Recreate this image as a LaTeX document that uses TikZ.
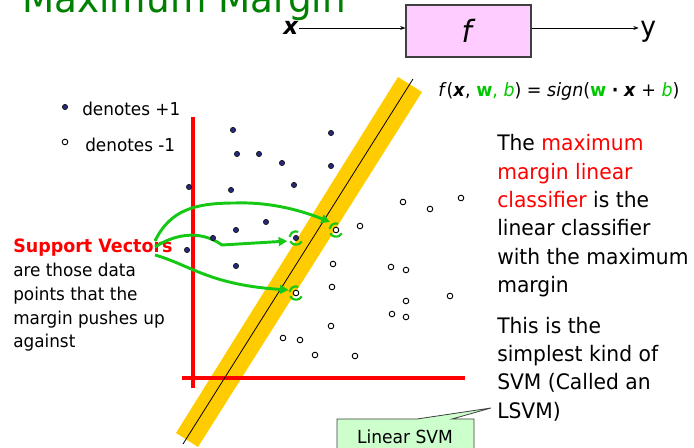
\documentclass[tikz,border=0pt]{standalone}
\usepackage{fontspec}
\setmainfont[FakeStretch=0.95]{DejaVu Sans}
\usetikzlibrary{arrows.meta}
\definecolor{titlegreen}{RGB}{0,128,0}
\definecolor{fgreen}{RGB}{0,200,0}
\definecolor{agreen}{RGB}{20,200,20}
\definecolor{bandyellow}{RGB}{255,204,0}
\definecolor{boxpink}{RGB}{255,204,255}
\definecolor{calloutgreen}{RGB}{204,255,204}
\definecolor{dotblue}{RGB}{40,40,120}
\definecolor{boxgray}{RGB}{64,64,64}
\tikzset{
  txt/.style={inner sep=0pt, anchor=base west},
  bodytxt/.style={txt, font=\fontsize{16}{19}\selectfont},
  smalltxt/.style={txt, font=\fontsize{13.3}{16}\selectfont},
  redline/.style={draw=red, line width=2.3pt},
  garrow/.style={draw=agreen, line width=2.2pt, -{Triangle[length=6.5pt,width=6.5pt]}},
  svmark/.style={draw=agreen, line width=1.6pt},
  pdot/.style={circle, fill=dotblue, draw=black, line width=0.4pt, inner sep=0pt, minimum size=4pt},
  ndot/.style={circle, fill=white, draw=black, line width=0.7pt, inner sep=0pt, minimum size=4.2pt},
  arr/.style={-{Stealth[length=4pt,width=3pt]}, line width=0.6pt},
}
\begin{document}
\begin{tikzpicture}[x=0.75pt,y=-0.75pt]
\useasboundingbox (0,0) rectangle (694,448);
\clip (0,0) rectangle (694,448);

% title
\node[txt, font=\fontsize{29.5}{34}\selectfont, text=titlegreen] (title) at (22,13) {Maximum Margin};

% f box
\node[txt, font=\fontsize{18}{20}\selectfont] (xin) at (283,35) {\textbf{\textit{x}}};
\node[draw=boxgray, line width=0.8pt, fill=boxpink, minimum width=93.75pt, minimum height=39pt, inner sep=0pt, font=\fontsize{23}{25}\selectfont] (fbox) at (468.5,31) {\textit{f}};
\node[txt, font=\fontsize{21}{24}\selectfont] (yout) at (640,37) {y};
\draw[arr] (xin.east |- 0,28) -- (fbox.west |- 0,28);
\draw[arr] (fbox.east |- 0,28) -- ([xshift=-1pt]yout.west |- 0,28);

% formula
\node[txt, font=\fontsize{13.8}{16}\selectfont] (formula) at (438,97)
  {\textit{f}(\textbf{\textit{x}}, \textcolor{fgreen}{\textbf{w}, \textit{b}}) = \textit{sign}(\textcolor{fgreen}{\textbf{w}} \textbf{·} \textbf{\textit{x}} + \textcolor{fgreen}{\textit{b}})};

% legend
\node[pdot] (lp) at (65,107) {};
\node[smalltxt] (lpt) at (82,116) {denotes +1};
\node[ndot] (ln) at (65,142) {};
\node[smalltxt] (lnt) at (85,152) {denotes -1};

% yellow band and separator
\fill[bandyellow] (398,77) -- (422,92) -- (198,447) -- (176,433) -- cycle;
\draw[redline] (193,117) -- (193,388);
\draw[redline] (182,378) -- (465,378);
\draw[black, line width=0.6pt] (413,79) -- (183,444);

% support vector text
\node[txt, text=red, font=\bfseries\fontsize{13.8}{16}\selectfont] (svt) at (13,253) {Support Vectors};
\node[smalltxt] (sv1t) at (13,277) {are those data};
\node[smalltxt] (sv2t) at (13,301) {points that the};
\node[smalltxt] (sv3t) at (13,325) {margin pushes up};
\node[smalltxt] (sv4t) at (13,348) {against};

% support vectors
\coordinate (sva) at (296,238);
\coordinate (svb) at (336,230);
\coordinate (svc) at (296,293);
\coordinate (s1) at (155,241);
\coordinate (s2) at (155,247);
\coordinate (s3) at (155,255);

% green arrows
\draw[garrow] (s1) .. controls (170,210) and (195,203) .. (235,203)
   .. controls (265,202) and (295,208) .. ([shift={(-4.5pt,6pt)}]svb);
\draw[garrow] (s2) .. controls (172,236) and (198,228) .. (222,245) -- ([shift={(-6.5pt,-2.3pt)}]sva);
\draw[garrow] (s3) .. controls (190,265) and (210,285) .. ([shift={(-5.5pt,2.3pt)}]svc);

% dots
\foreach \p [count=\i] in {(233,130),(331,133),(237,154),(259,154),(282,163),(331,166),(189,187),(231,190),(294,185),(266,222),(236,230),(213,238),(187,250),(236,266)}
  \node[pdot] (p\i) at \p {};
\foreach \p [count=\i] in {(403,202),(461,198),(430,209),(360,226),(333,264),(391,267),(406,270),(332,287),(406,301),(450,296),(392,314),(406,317),(331,326),(283,338),(300,340),(315,355),(355,356)}
  \node[ndot] (n\i) at \p {};
\node[pdot] (svA) at (sva) {};
\node[ndot] (svB) at (svb) {};
\node[ndot] (svC) at (svc) {};
\foreach \c in {sva,svb,svc}{
  \draw[svmark] ([shift={(70:5pt)}]\c) arc[start angle=70, end angle=170, radius=5pt];
  \draw[svmark] ([shift={(210:5pt)}]\c) arc[start angle=210, end angle=330, radius=5pt];
}

% right text
\node[bodytxt] (r1) at (497,150.7) {The \textcolor{red}{maximum}};
\node[bodytxt, text=red] (r2) at (497,179.3) {margin linear};
\node[bodytxt] (r3) at (497,207.3) {\textcolor{red}{classifier} is the};
\node[bodytxt] (r4) at (497,236) {linear classifier};
\node[bodytxt] (r5) at (497,264.3) {with the maximum};
\node[bodytxt] (r6) at (497,292.7) {margin};
\node[bodytxt] (r7) at (497,333.3) {This is the};
\node[bodytxt] (r8) at (497,361.7) {simplest kind of};
\node[bodytxt] (r9) at (497,390) {SVM (Called an};
\node[bodytxt] (r10) at (497,418.3) {LSVM)};

% callout
\coordinate (tip) at (491,408);
\filldraw[fill=calloutgreen, draw=boxgray, line width=0.6pt]
  (337,419) -- (417,419) -- (tip) -- (452,419) -- (474,419) -- (474,452) -- (337,452) -- cycle;
\node[inner sep=0pt, font=\fontsize{13.5}{16}\selectfont] (callout) at (405,437) {Linear SVM};
\end{tikzpicture}
\end{document}
